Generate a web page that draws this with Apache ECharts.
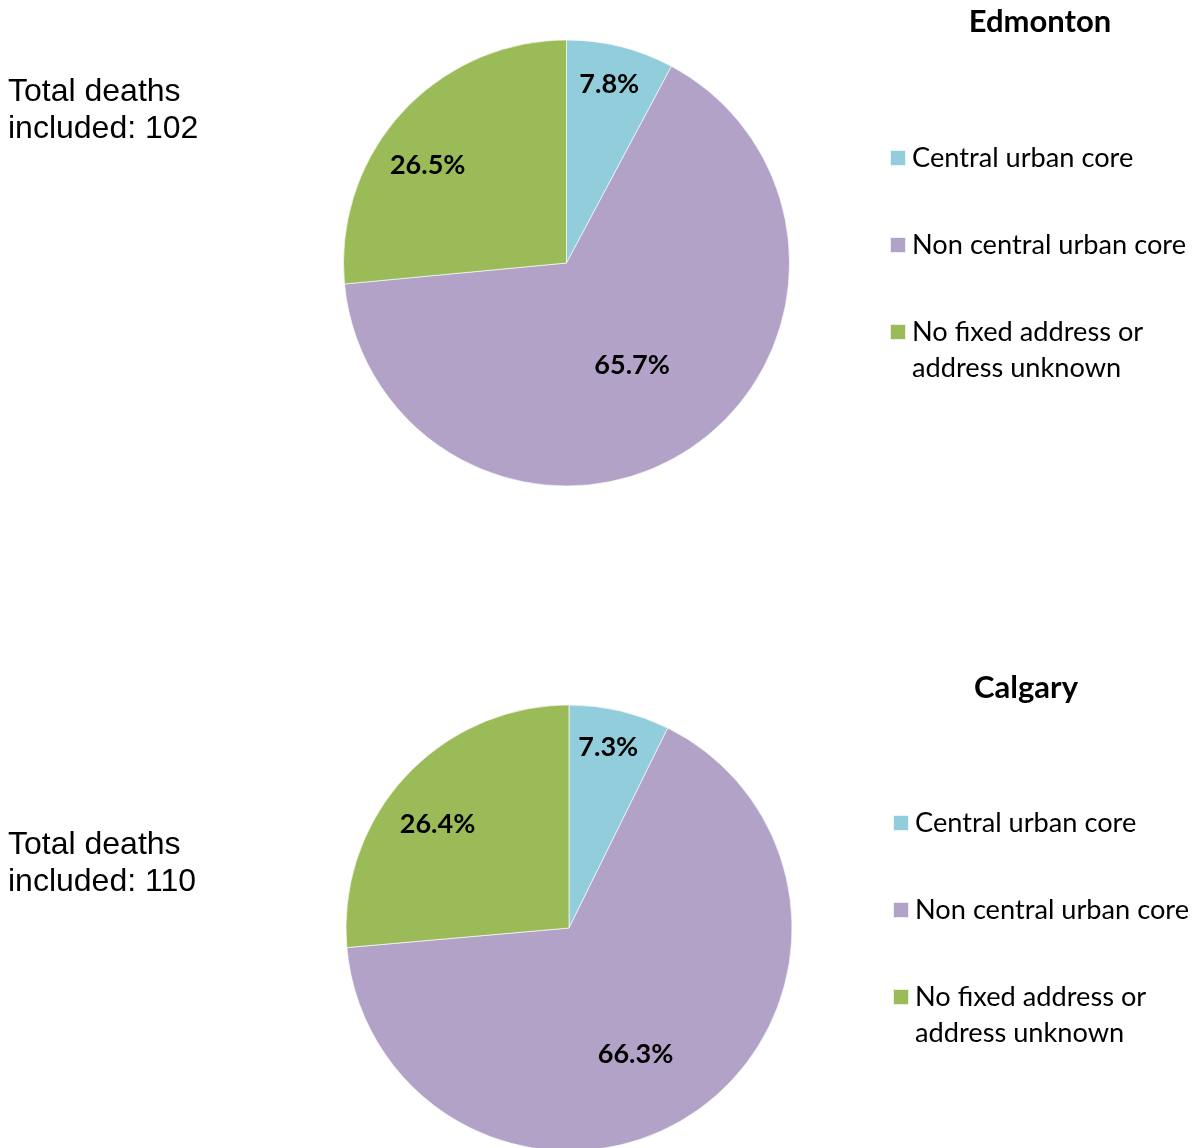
<!DOCTYPE html>
<html>
<head>
<meta charset="utf-8">
<title>Deaths by residence location</title>
<script src="https://cdn.jsdelivr.net/npm/echarts@6/dist/echarts.min.js"></script>
<style>
  html, body { margin: 0; padding: 0; background: #ffffff; }
  #chart { width: 1192px; height: 1148px; }
</style>
</head>
<body>
<div id="chart"></div>
<script>
// Share of deaths (%) by place of residence, per city
const cities = ['Edmonton', 'Calgary'];
const categories = ['Central urban core', 'Non central urban core', 'No fixed address or\naddress unknown'];
const edmontonShares = [7.8, 65.7, 26.5];
const calgaryShares = [7.3, 66.3, 26.4];
const totalDeaths = [102, 110];
const sliceColors = ['#92CDDC', '#B3A2C7', '#9BBB59'];

const shareSets = [edmontonShares, calgaryShares];

// Layout of each city block
const blocks = [
  { center: [566.5, 263], radius: 223, titleX: 1040, titleY: 6, totalTop: 74, legendLeft: 889, legendFirst: 158,
    labelRadius: [0.825, 0.545, 0.76], labelTurn: [-0.6, 1.0, -7.3] },
  { center: [569, 928], radius: 223, titleX: 1026, titleY: 672, totalTop: 827, legendLeft: 892, legendFirst: 823,
    labelRadius: [0.83, 0.64, 0.75], labelTurn: [-0.9, 6.6, -4.3] }
];

const LEG_LINE = 36;      // legend line height
const LEG_STEP = 87;      // distance between legend entries
const FONT = 'Lato, "Noto Sans", sans-serif';

function labelAnchor(blockIdx, dataIndex) {
  const shares = shareSets[blockIdx];
  const b = blocks[blockIdx];
  const total = shares.reduce((s, v) => s + v, 0);
  let before = 0;
  for (let i = 0; i < dataIndex; i++) before += shares[i];
  const mid = (before + shares[dataIndex] / 2) / total * 360 + b.labelTurn[dataIndex];
  const a = mid * Math.PI / 180;
  const r = b.radius * b.labelRadius[dataIndex];
  return { x: b.center[0] + r * Math.sin(a), y: b.center[1] - r * Math.cos(a) };
}

const titles = [];
const legends = [];
const series = [];

cities.forEach((city, k) => {
  const b = blocks[k];
  titles.push({
    text: city,
    left: b.titleX,
    top: b.titleY,
    textAlign: 'center',
    padding: 0,
    textStyle: { fontFamily: FONT, fontWeight: 'bold', fontSize: 31, color: '#000000' }
  });
  titles.push({
    text: 'Total deaths\nincluded: ' + totalDeaths[k],
    left: 8,
    top: b.totalTop,
    padding: 0,
    textStyle: { fontFamily: '"Liberation Sans", Arial, sans-serif', fontWeight: 'normal', fontSize: 32, lineHeight: 37, color: '#000000' }
  });
  // Each entry is three line-heights tall; a wrapped name keeps its
  // first line level with the swatch by a leading empty line.
  legends.push({
    orient: 'vertical',
    left: b.legendLeft,
    top: b.legendFirst - 1.5 * LEG_LINE,
    padding: 0,
    itemGap: LEG_STEP - 3 * LEG_LINE,
    itemWidth: 16,
    itemHeight: 16,
    icon: 'rect',
    selectedMode: false,
    formatter: (name) => (name.indexOf('\n') >= 0 ? '\n' + name : name),
    textStyle: { fontFamily: FONT, fontSize: 27.2, color: '#000000', lineHeight: LEG_LINE },
    data: categories.map((name) => ({
      name: name,
      textStyle: {
        padding: name.indexOf('\n') >= 0 ? [0, 0, 0, 1] : [LEG_LINE, 0, LEG_LINE, 1]
      }
    }))
  });
  series.push({
    type: 'pie',
    center: b.center,
    radius: b.radius,
    startAngle: 90,
    clockwise: true,
    avoidLabelOverlap: false,
    silent: true,
    itemStyle: { borderColor: 'rgba(255,255,255,0.8)', borderWidth: 0.8 },
    label: {
      show: true,
      position: 'inside',
      formatter: (p) => p.value.toFixed(1) + '%',
      fontFamily: FONT,
      fontWeight: 'bold',
      fontSize: 27,
      color: '#000000'
    },
    labelLine: { show: false },
    labelLayout: (p) => {
      const pt = labelAnchor(k, p.dataIndex);
      return { x: pt.x, y: pt.y, align: 'center', verticalAlign: 'middle' };
    },
    data: categories.map((name, i) => ({
      name: name,
      value: shareSets[k][i],
      itemStyle: { color: sliceColors[i] }
    }))
  });
});

const chart = echarts.init(document.getElementById('chart'), null, { renderer: 'canvas' });
chart.setOption({
  animation: false,
  backgroundColor: '#ffffff',
  title: titles,
  legend: legends,
  series: series
});
</script>
</body>
</html>
